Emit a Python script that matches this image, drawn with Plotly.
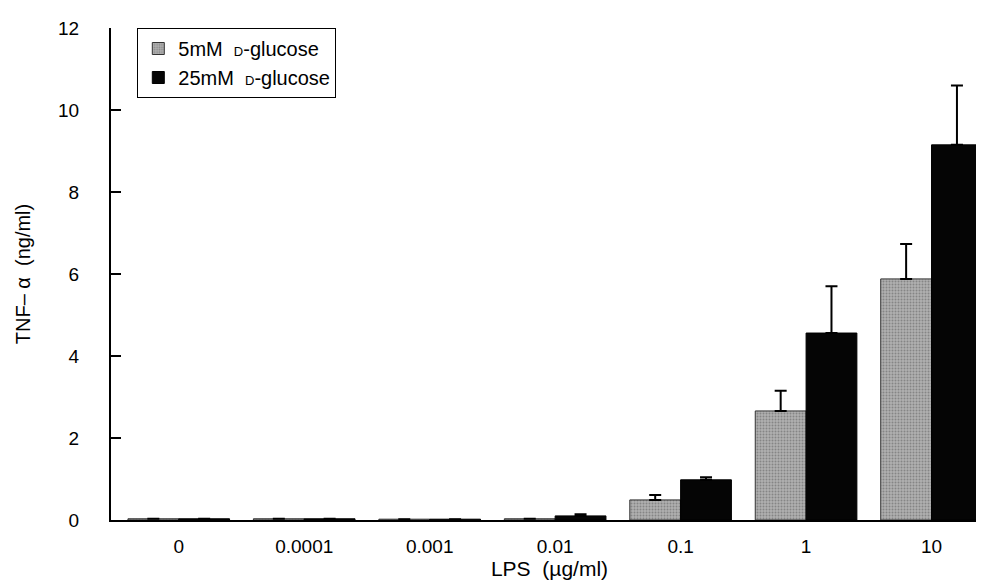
import plotly.graph_objects as go

categories = ["0", "0.0001", "0.001", "0.01", "0.1", "1", "10"]
glucose_5mM = [0.03, 0.03, 0.02, 0.03, 0.49, 2.66, 5.88]
glucose_5mM_err = [0.0, 0.0, 0.0, 0.0, 0.12, 0.49, 0.85]
glucose_25mM = [0.03, 0.03, 0.02, 0.10, 0.98, 4.56, 9.15]
glucose_25mM_err = [0.0, 0.0, 0.0, 0.04, 0.06, 1.14, 1.45]
zeros = [0] * len(categories)

small_d = "<span style='font-size:13px'>D</span>"

fig = go.Figure()
fig.add_trace(go.Bar(
    x=categories, y=glucose_5mM, name="5mM  " + small_d + "-glucose",
    marker=dict(color="#9c9c9c", line=dict(color="#333333", width=1),
                pattern=dict(shape=".", fgcolor="#5a5a5a", bgcolor="#b0b0b0", size=3, solidity=0.35)),
    error_y=dict(type="data", array=glucose_5mM_err, arrayminus=zeros, symmetric=False,
                 color="black", thickness=2, width=6),
))
fig.add_trace(go.Bar(
    x=categories, y=glucose_25mM, name="25mM  " + small_d + "-glucose",
    marker=dict(color="#050505", line=dict(color="black", width=1)),
    error_y=dict(type="data", array=glucose_25mM_err, arrayminus=zeros, symmetric=False,
                 color="black", thickness=2, width=6),
))

fig.update_layout(
    width=984, height=585,
    margin=dict(l=103, r=4, t=20, b=73),
    paper_bgcolor="white", plot_bgcolor="white",
    font=dict(family="Liberation Sans, Arial, sans-serif", color="black", size=19),
    barmode="group", bargap=0.19, bargroupgap=0,
    showlegend=True,
    legend=dict(x=0.03, y=1.0, xanchor="left", yanchor="top",
                bordercolor="black", borderwidth=1, bgcolor="white",
                font=dict(size=20), tracegroupgap=0, itemwidth=30),
    xaxis=dict(type="category", range=[-0.54, 6.45], showline=True, linecolor="black",
               linewidth=2, ticks="", showgrid=False, zeroline=False,
               ticklabelstandoff=8,
               title=dict(text="LPS  (µg/ml)", font=dict(size=21), standoff=4)),
    yaxis=dict(range=[0, 12], tickvals=[0, 2, 4, 6, 8, 10, 12], showline=True,
               linecolor="black", linewidth=2, ticks="inside", ticklen=10,
               tickwidth=2, tickcolor="black", showgrid=False, zeroline=False,
               ticklabelstandoff=26,
               title=dict(text="TNF– α  (ng/ml)", font=dict(size=20), standoff=22)),
)

fig.write_html("out.html")
